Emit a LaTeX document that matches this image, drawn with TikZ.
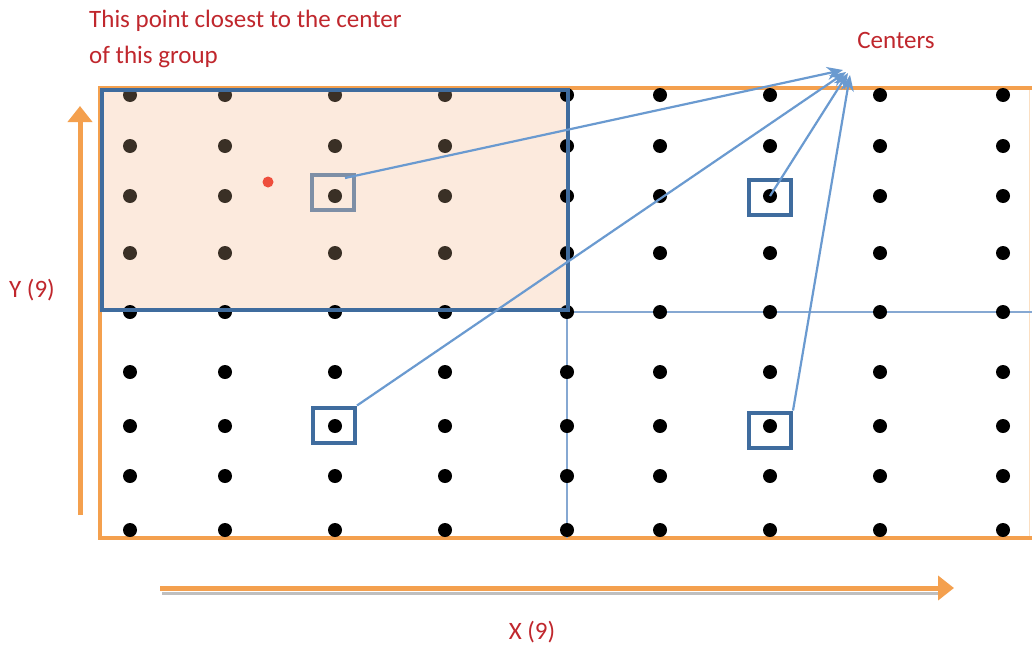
\documentclass[tikz,border=0pt]{standalone}
\usepackage{fontspec}
\setmainfont{Carlito}
\usetikzlibrary{arrows.meta}
\definecolor{redtxt}{HTML}{C0272D}
\definecolor{orangeax}{HTML}{F4A04E}
\definecolor{blueframe}{HTML}{3F6C9E}
\definecolor{bluethin}{HTML}{86A8D2}
\definecolor{bluearrow}{HTML}{6A9AD0}
\definecolor{peach}{HTML}{FCEADD}
\definecolor{dotbrown}{HTML}{3A3026}
\definecolor{graysq}{HTML}{7E8FA6}
\definecolor{reddot}{HTML}{EE4E3C}
\tikzset{
  dot/.style={circle,inner sep=0pt,minimum size=14pt},
  sqbox/.style={draw=blueframe,line width=4pt,minimum width=42pt,minimum height=35pt,inner sep=0pt},
  ctrarrow/.style={draw=bluearrow,line width=2.2pt,-{Stealth[length=16pt,width=13pt,inset=5pt]}},
  axis/.style={draw=orangeax,line width=5pt,-{Triangle[length=16pt,width=24pt]}},
  lbl/.style={text=redtxt,font=\fontsize{25}{36}\selectfont,inner sep=0pt}
}
\begin{document}
\begin{tikzpicture}[x=1pt,y=-1pt]
\useasboundingbox[fill=white] (0,0) rectangle (1032,648);
% orange frame
\draw[orangeax!35,line width=1pt] (1029,88) -- (1029,538);
\draw[orangeax,line width=4pt] (1032,88) -- (100,88) -- (100,538) -- (1032,538);
% peach group area
\fill[peach] (102,90) rectangle (568,310);
% thin blue separators
\coordinate (vtop) at (567,310);
\coordinate (vbot) at (567,538);
\coordinate (hl) at (568,312);
\coordinate (hr) at (1032,312);
\draw[bluethin,line width=2pt] (vtop) -- (vbot);
\draw[bluethin,line width=2pt] (hl) -- (hr);
% dots
\foreach \x [count=\i] in {130,225,335,445,567,660,770,880,1003} {
  \foreach \y [count=\j] in {95,146,196,253,312,372,426,476,530} {
    \pgfmathtruncatemacro\inb{and(\i<5,\j<5)}
    \ifnum\inb=1 \def\dc{dotbrown}\else\def\dc{black}\fi
    \node[dot,fill=\dc] (d-\i-\j) at (\x,\y) {};
  }
}
% group frame
\draw[blueframe,line width=4pt] (102,90) rectangle (568,310);
% red point
\node[dot,fill=reddot,minimum size=11pt] (rp) at (268,182) {};
% squares
\node[sqbox,draw=graysq] (s1) at (333,192) {};
\node[sqbox] (s2) at (770,197) {};
\node[sqbox] (s3) at (334,425) {};
\node[sqbox] (s4) at (770,430) {};
% centers
\coordinate (c1) at (843,70);
\coordinate (c2) at (846,72);
\coordinate (c3) at (848,73);
\coordinate (c4) at (850,75);
\draw[ctrarrow] (345,178) -- (c1);
\draw[ctrarrow] (s3.north east) -- (c2);
\draw[ctrarrow] (d-7-3.center) -- (c3);
\draw[ctrarrow] (s4.north east) -- (c4);
% axes
\coordinate (ya) at (80,515);
\coordinate (yb) at (80,106);
\coordinate (xa) at (160,588);
\coordinate (xb) at (954,588);
\draw[black!25,line width=3pt] (162,593) -- (940,593);
\draw[axis] (ya) -- (yb);
\draw[axis] (xa) -- (xb);
% labels
\node[lbl,anchor=north west,align=left] (t1) at (89,10) {This point closest to the center\\of this group};
\node[lbl] (tc) at (896,40) {Centers};
\node[lbl] (ty) at (32,290) {Y (9)};
\node[lbl] (tx) at (532,632) {X (9)};
\end{tikzpicture}
\end{document}
